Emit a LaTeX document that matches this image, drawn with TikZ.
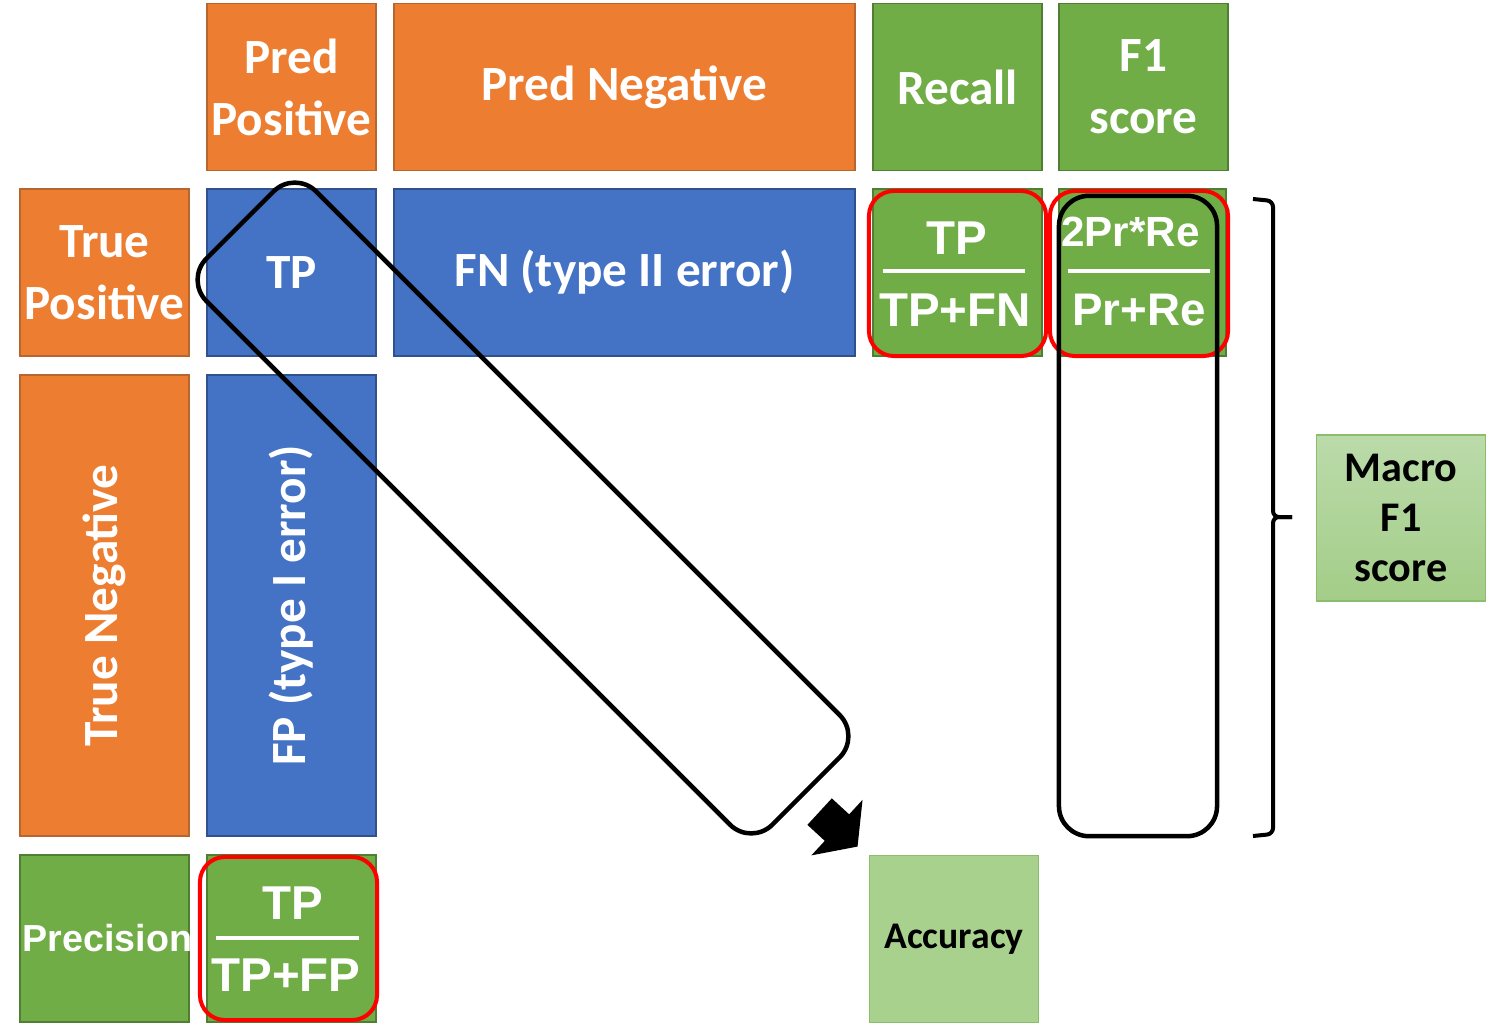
\documentclass[tikz,border=0pt]{standalone}
\usepackage{fontspec}
\setmainfont{Carlito}
\newfontfamily\arialfont{Liberation Sans}
\usetikzlibrary{arrows.meta}
\definecolor{orangebox}{HTML}{ED7D31}
\definecolor{orangeline}{HTML}{B6662F}
\definecolor{bluebox}{HTML}{4472C4}
\definecolor{blueline}{HTML}{2F528F}
\definecolor{greenbox}{HTML}{70AD47}
\definecolor{greenline}{HTML}{507E32}
\definecolor{lightgreen}{HTML}{A9D18E}
\definecolor{lightline}{HTML}{8CBD6C}
\definecolor{macrotop}{HTML}{BBDBAA}
\definecolor{macrobottom}{HTML}{A3CD88}
\tikzset{
  cell/.style={draw, line width=0.5pt, inner sep=0pt, align=center, text=white,
    font=\bfseries\fontsize{14}{17.6}\selectfont,
    minimum width=1.69cm, minimum height=1.67cm},
  orangecell/.style={cell, fill=orangebox, draw=orangeline},
  bluecell/.style={cell, fill=bluebox, draw=blueline},
  greencell/.style={cell, fill=greenbox, draw=greenline},
  lightcell/.style={cell, fill=lightgreen, draw=lightline, text=black},
  fracpart/.style={text=white, inner sep=0pt, font=\arialfont\bfseries\fontsize{13.5}{16}\selectfont},
  fracbar/.style={fill=white, inner sep=0pt, minimum width=1.42cm, minimum height=0.04cm},
  redframe/.style={draw=red, line width=0.04cm, rounded corners=0.25cm, inner sep=0pt},
  blackframe/.style={draw=black, line width=0.045cm, rounded corners=0.3cm, inner sep=0pt},
  blockarrow/.style={line width=0.36cm, -{Triangle[width=0.74cm,length=0.28cm]}}
}
\begin{document}
\begin{tikzpicture}[x=0.01cm, y=-0.01cm]
\useasboundingbox (0,0) rectangle (1487,1033);
% header row
\node[orangecell] (predpos) at (291.5,87) {Pred\\Positive};
\node[orangecell, minimum width=4.61cm] (predneg) at (624.5,87) {Pred Negative};
\node[greencell] (recall) at (957.5,87) {Recall};
\node[greencell] (fscore) at (1143.5,87) {F1\\score};
% true positive row
\node[orangecell] (truepos) at (104.5,272.5) {True\\Positive};
\node[bluecell] (tp) at (291.5,272.5) {TP};
\node[bluecell, minimum width=4.61cm] (fn) at (624.5,272.5) {FN (type II error)};
\node[greencell] (recallf) at (957.5,272.5) {};
\node[greencell, minimum width=1.67cm] (fscoref) at (1142.5,272.5) {};
% true negative row
\node[orangecell, rotate=90, minimum width=4.61cm, minimum height=1.69cm] (trueneg) at (104.5,605.5) {True Negative};
\node[bluecell, rotate=90, minimum width=4.61cm, minimum height=1.69cm] (fp) at (291.5,605.5) {FP (type I error)};
% bottom row
\node[greencell, font=\arialfont\bfseries\fontsize{10.7}{12}\selectfont] (prec) at (104.5,938.5) {\hspace*{0.06cm}\makebox[0pt]{Precision}};
\node[greencell] (precf) at (291.5,938.5) {};
\node[lightcell, font=\bfseries\fontsize{10.7}{12}\selectfont] (acc) at (954,939) {Accuracy};
\node[cell, text=black, draw=lightline, top color=macrotop, bottom color=macrobottom,
  font=\bfseries\fontsize{12}{14.2}\selectfont, minimum height=1.66cm] (macro) at (1401,518) {Macro\\F1\\score};
% fractions
\node[fracpart] (recnum) at (957,238) {TP};
\node[fracbar] (recbar) at (954,271) {};
\node[fracpart] (recden) at (955,310) {TP+FN};
\node[fracpart, font=\arialfont\bfseries\fontsize{12}{14}\selectfont] (fnum) at (1130.5,232) {2Pr*Re};
\node[fracbar] (fbar) at (1139,271) {};
\node[fracpart, font=\arialfont\bfseries\fontsize{13}{15}\selectfont] (fden) at (1139,310) {Pr+Re};
\node[fracpart] (precnum) at (293,903) {TP};
\node[fracbar] (precbar) at (287.5,938) {};
\node[fracpart] (precden) at (286,975) {TP+FP};
% highlight frames
\node[redframe, minimum width=1.77cm, minimum height=1.65cm] (recframe) at (957.5,273.5) {};
\node[redframe, minimum width=1.78cm, minimum height=1.65cm] (fframe) at (1139,273.5) {};
\node[redframe, minimum width=1.77cm, minimum height=1.63cm] (precframe) at (288.5,938.5) {};
\node[blackframe, minimum width=1.58cm, minimum height=6.4cm] (fcolumn) at (1138,516) {};
\node[blackframe, rotate=-45, minimum width=8cm, minimum height=1.55cm] (diag) at (523,508) {};
% arrow and bracket
\draw[blockarrow] ([shift={(12,19)}]diag.east) -- ([shift={(-11,-8)}]acc.north west);
\coordinate (bracetop) at (1253,199);
\coordinate (bracemid) at (1273,517);
\coordinate (bracebot) at (1253,836);
\draw[line width=0.04cm, rounded corners=0.06cm] (bracetop) -- (1273,201) -- (bracemid) -- (1292,517);
\draw[line width=0.04cm, rounded corners=0.06cm] (bracebot) -- (1273,834) -- (bracemid) -- (1292,517);
\end{tikzpicture}
\end{document}
